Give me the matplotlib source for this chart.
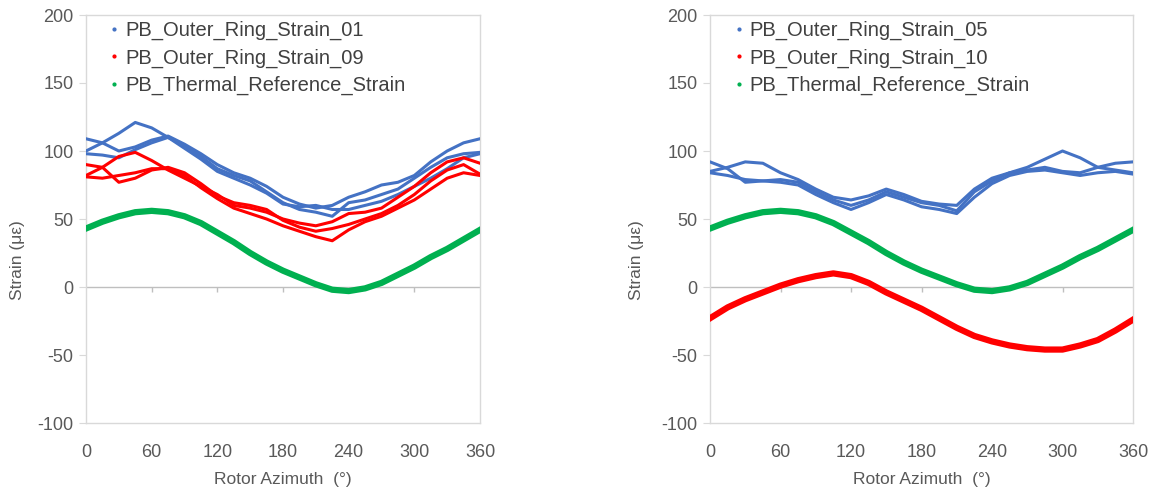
import numpy as np
import matplotlib
matplotlib.use('Agg')
import matplotlib.pyplot as plt
from matplotlib.lines import Line2D

plt.rcParams['font.family'] = ['Liberation Sans', 'DejaVu Sans']
plt.rcParams['axes.unicode_minus'] = False

# rotor azimuth knots (deg)
azimuth = [0, 15, 30, 45, 60, 75, 90, 105, 120, 135, 150, 165, 180,
           195, 210, 225, 240, 255, 270, 285, 300, 315, 330, 345, 360]

# left panel: PB_Outer_Ring_Strain_01 (three revolutions)
strain_01_a = [109, 106, 100, 103, 108, 111, 105, 98, 90, 84, 80, 74, 66,
               61, 58, 60, 66, 70, 75, 77, 82, 92, 100, 106, 109]
strain_01_b = [100, 106, 113, 121, 117, 110, 104, 96, 87, 82, 78, 70, 62,
               57, 55, 52, 62, 64, 68, 72, 80, 88, 95, 98, 99]
strain_01_c = [98, 97, 95, 101, 106, 110, 102, 94, 85, 80, 75, 69, 61,
               59, 60, 57, 57, 60, 63, 68, 74, 80, 87, 95, 98]

# left panel: PB_Outer_Ring_Strain_09
strain_09_a = [82, 88, 96, 99, 93, 86, 80, 74, 68, 60, 58, 55, 50,
               47, 45, 48, 54, 55, 58, 66, 74, 84, 92, 95, 91]
strain_09_b = [90, 88, 77, 80, 86, 88, 84, 76, 67, 62, 60, 57, 49,
               44, 41, 43, 46, 50, 54, 60, 68, 78, 86, 90, 83]
strain_09_c = [81, 80, 82, 84, 87, 87, 82, 73, 65, 58, 54, 50, 45,
               41, 37, 34, 42, 48, 52, 58, 64, 72, 80, 84, 82]

# thermal reference (both panels)
thermal_ref = [43, 48, 52, 55, 56, 55, 52, 47, 40, 33, 25, 18, 12,
               7, 2, -2, -3, -1, 3, 9, 15, 22, 28, 35, 42]

# right panel: PB_Outer_Ring_Strain_05
strain_05_a = [85, 88, 92, 91, 84, 79, 72, 66, 64, 67, 72, 68, 63,
               61, 60, 72, 80, 84, 86, 88, 85, 84, 88, 91, 92]
strain_05_b = [92, 87, 77, 78, 79, 77, 70, 64, 60, 64, 70, 66, 62,
               60, 56, 70, 78, 84, 88, 94, 100, 95, 88, 86, 84]
strain_05_c = [84, 82, 79, 78, 77, 75, 68, 62, 57, 62, 68, 64, 59,
               57, 54, 66, 76, 82, 85, 86, 84, 82, 84, 85, 83]

# right panel: PB_Outer_Ring_Strain_10
strain_10 = [-23, -15, -9, -4, 1, 5, 8, 10, 8, 3, -4, -10, -16,
             -23, -30, -36, -40, -43, -45, -46, -46, -43, -39, -32, -24]

xticks = [0, 60, 120, 180, 240, 300, 360]
yticks = [-100, -50, 0, 50, 100, 150, 200]

BLUE = '#4472C4'
RED = '#FF0000'
GREEN = '#00B050'
GRID = '#D9D9D9'
TEXT = '#595959'


def style_axes(ax):
    ax.set_xlim(0, 360)
    ax.set_ylim(-100, 200)
    for s in ax.spines.values():
        s.set_color(GRID)
        s.set_linewidth(1)
    ax.axhline(0, color='#BFBFBF', lw=1, zorder=1)
    ax.vlines(xticks[1:-1], -4, 0, color='#BFBFBF', lw=1, zorder=1)
    ax.set_xticks(xticks)
    ax.set_yticks(yticks)
    ax.tick_params(axis='x', length=0, pad=15, labelsize=13, labelcolor=TEXT)
    ax.tick_params(axis='y', length=5, color=GRID, pad=4, labelsize=13, labelcolor=TEXT)
    ax.set_xlabel('Rotor Azimuth  (°)', fontsize=12.5, color=TEXT, labelpad=8)
    ax.set_ylabel('Strain (με)', fontsize=12.5, color=TEXT)


def add_legend(ax, labels, x0):
    handles = [Line2D([], [], marker='o', ms=2.0, ls='none', color=c)
               for c in (BLUE, RED, GREEN)]
    ax.legend(handles, labels, loc='upper left', bbox_to_anchor=(x0, 0.985),
              frameon=False, fontsize=14.5, handlelength=0.4, handletextpad=0.35,
              labelspacing=0.4, borderpad=0, borderaxespad=0, labelcolor='#404040')


fig = plt.figure(figsize=(11.54, 4.88), dpi=100)
ax1 = fig.add_axes([86 / 1154, 65 / 488, 394 / 1154, 408 / 488])
ax2 = fig.add_axes([710 / 1154, 65 / 488, 423 / 1154, 408 / 488])

for tr in (strain_01_a, strain_01_b, strain_01_c):
    ax1.plot(azimuth, tr, color=BLUE, lw=2.2, zorder=3)
for tr in (strain_09_a, strain_09_b, strain_09_c):
    ax1.plot(azimuth, tr, color=RED, lw=2.2, zorder=3)
ax1.plot(azimuth, thermal_ref, color=GREEN, lw=4.5, zorder=3)
style_axes(ax1)
ax1.yaxis.set_label_coords(-0.155, 0.40)
add_legend(ax1, ['PB_Outer_Ring_Strain_01', 'PB_Outer_Ring_Strain_09',
                 'PB_Thermal_Reference_Strain'], 0.062)

for tr in (strain_05_a, strain_05_b, strain_05_c):
    ax2.plot(azimuth, tr, color=BLUE, lw=2.2, zorder=3)
ax2.plot(azimuth, strain_10, color=RED, lw=4.5, zorder=3)
ax2.plot(azimuth, thermal_ref, color=GREEN, lw=4.5, zorder=3)
style_axes(ax2)
ax2.yaxis.set_label_coords(-0.155, 0.40)
add_legend(ax2, ['PB_Outer_Ring_Strain_05', 'PB_Outer_Ring_Strain_10',
                 'PB_Thermal_Reference_Strain'], 0.058)

fig.savefig('out.png', dpi=100)
